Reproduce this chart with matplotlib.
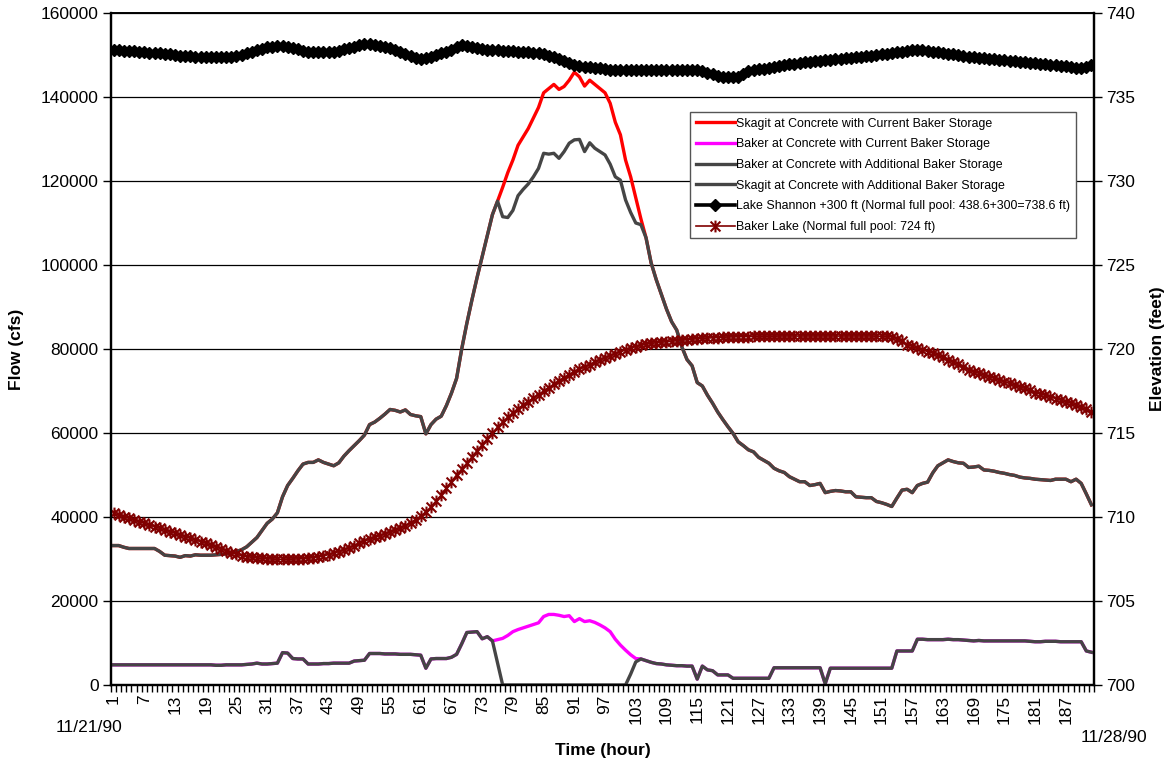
import numpy as np
import matplotlib
matplotlib.use("Agg")
import matplotlib.pyplot as plt
from matplotlib.lines import Line2D
from matplotlib.path import Path
from matplotlib.ticker import FixedLocator, NullFormatter, FuncFormatter

plt.rcParams['font.family'] = ['Liberation Sans', 'DejaVu Sans']

# Hourly series, 11/21/90 - 11/28/90
hours = np.arange(1, 193)

# Skagit at Concrete with additional Baker storage (cfs)
skagit_additional = [
    33200, 33200, 32800, 32500, 32500, 32500, 32500, 32500, 32500, 31800, 30900, 30800,
    30700, 30400, 30800, 30700, 31000, 30900, 30900, 30900, 31000, 31100, 31200, 31500,
    31800, 32200, 32900, 34000, 35100, 36800, 38500, 39500, 41000, 44800, 47500, 49200,
    51000, 52600, 53000, 53000, 53600, 53000, 52600, 52200, 52900, 54500, 55800, 57000,
    58200, 59500, 62000, 62600, 63500, 64500, 65600, 65400, 65000, 65500, 64400, 64100,
    63900, 59800, 62000, 63300, 64000, 66500, 69500, 73000, 80000, 86100, 91700, 97000,
    102000, 107000, 112000, 115200, 111500, 111300, 113000, 116500, 118000, 119300, 121000, 123000,
    126600, 126400, 126600, 125400, 127000, 129000, 129800, 129900, 127000, 129100, 127800, 127000,
    126200, 124000, 121000, 120200, 115500, 112500, 110000, 109600, 106500, 100500, 96500, 93000,
    89500, 86500, 84500, 80500, 77500, 76000, 72000, 71200, 69000, 67100, 65000, 63200,
    61500, 59900, 57900, 57000, 56000, 55500, 54200, 53500, 52800, 51600, 51000, 50600,
    49600, 49000, 48400, 48400, 47500, 47700, 48000, 45800, 46100, 46300, 46200, 46000,
    46000, 44800, 44700, 44600, 44600, 43700, 43400, 43000, 42500, 44500, 46400, 46600,
    45800, 47500, 48000, 48300, 50500, 52200, 52900, 53600, 53200, 52900, 52800, 51800,
    51900, 52100, 51200, 51100, 50900, 50600, 50400, 50100, 49900, 49500, 49300, 49200,
    49000, 48900, 48800, 48700, 49000, 49000, 49000, 48400, 49000, 48000, 45500, 42900,
]

# Baker at Concrete with additional Baker storage (cfs)
baker_additional = [
    4800, 4800, 4800, 4800, 4800, 4800, 4800, 4800, 4800, 4800, 4800, 4800,
    4800, 4800, 4800, 4800, 4800, 4800, 4800, 4800, 4700, 4700, 4800, 4800,
    4800, 4800, 4900, 5000, 5200, 5000, 5000, 5100, 5200, 7700, 7600, 6300,
    6200, 6200, 5000, 5000, 5000, 5100, 5100, 5200, 5200, 5200, 5200, 5700,
    5800, 5900, 7500, 7500, 7500, 7400, 7400, 7400, 7300, 7300, 7300, 7200,
    7100, 4000, 6200, 6300, 6300, 6300, 6600, 7300, 9800, 12500, 12600, 12700,
    11000, 11500, 10500, 5300, 0, 0, 0, 0, 0, 0, 0, 0,
    0, 0, 0, 0, 0, 0, 0, 0, 0, 0, 0, 0,
    0, 0, 0, 0, 0, 2600, 5500, 6200, 5800, 5400, 5100, 5000,
    4800, 4700, 4600, 4600, 4500, 4500, 1400, 4500, 3600, 3400, 2400, 2400,
    2400, 1600, 1600, 1600, 1600, 1600, 1600, 1600, 1600, 4100, 4100, 4100,
    4100, 4100, 4100, 4100, 4100, 4100, 4100, 300, 4000, 4000, 4000, 4000,
    4000, 4000, 4000, 4000, 4000, 4000, 4000, 4000, 4000, 8100, 8100, 8100,
    8100, 10900, 10900, 10800, 10800, 10800, 10800, 10900, 10800, 10800, 10700, 10600,
    10500, 10600, 10500, 10500, 10500, 10500, 10500, 10500, 10500, 10500, 10500, 10400,
    10300, 10300, 10400, 10400, 10400, 10300, 10300, 10300, 10300, 10300, 8100, 7800,
]

# Hours 76-104, where current storage differs from additional storage
skagit_current_peak = [
    115200, 118500, 122000, 125000, 128500, 130500, 132500, 135000, 137500, 141000,
    142000, 143000, 141800, 142500, 144000, 145900, 144800, 142600, 144000, 143000,
    142000, 141000, 138500, 134000, 131000, 125000, 121000, 116000, 111000,
]
baker_current_peak = [
    10800, 11100, 11800, 12700, 13200, 13600, 14000, 14400, 14800, 16300,
    16800, 16800, 16600, 16300, 16500, 15100, 15800, 15100, 15300, 14900,
    14300, 13600, 12700, 10900, 9500, 8300, 7200, 6300, 6200,
]

# Lake Shannon elevation + 300 ft (feet)
lake_shannon = [
    737.80, 737.78, 737.76, 737.74, 737.72, 737.70, 737.67, 737.64, 737.62, 737.59, 737.56, 737.53,
    737.50, 737.47, 737.44, 737.42, 737.41, 737.40, 737.40, 737.40, 737.40, 737.40, 737.40, 737.40,
    737.45, 737.52, 737.60, 737.70, 737.80, 737.88, 737.95, 738.00, 738.04, 738.05, 738.00, 737.92,
    737.84, 737.76, 737.70, 737.68, 737.66, 737.66, 737.66, 737.70, 737.76, 737.84, 737.92, 738.00,
    738.08, 738.14, 738.15, 738.12, 738.06, 738.00, 737.90, 737.80, 737.70, 737.56, 737.42, 737.30,
    737.24, 737.30, 737.40, 737.50, 737.60, 737.70, 737.82, 737.96, 738.10, 738.05, 737.96, 737.90,
    737.84, 737.82, 737.80, 737.78, 737.76, 737.74, 737.72, 737.70, 737.68, 737.65, 737.62, 737.60,
    737.53, 737.46, 737.40, 737.27, 737.14, 737.00, 736.93, 736.87, 736.80, 736.77, 736.73, 736.70,
    736.67, 736.63, 736.60, 736.60, 736.60, 736.60, 736.60, 736.60, 736.60, 736.60, 736.60, 736.60,
    736.60, 736.60, 736.60, 736.60, 736.60, 736.60, 736.60, 736.52, 736.43, 736.34, 736.25, 736.22,
    736.20, 736.20, 736.20, 736.38, 736.55, 736.60, 736.64, 736.67, 736.70, 736.76, 736.82, 736.88,
    736.94, 736.99, 737.04, 737.07, 737.10, 737.13, 737.16, 737.19, 737.22, 737.24, 737.27, 737.30,
    737.33, 737.36, 737.40, 737.43, 737.47, 737.50, 737.54, 737.57, 737.61, 737.65, 737.69, 737.73,
    737.77, 737.80, 737.77, 737.73, 737.69, 737.65, 737.61, 737.57, 737.53, 737.49, 737.45, 737.40,
    737.37, 737.34, 737.31, 737.28, 737.25, 737.22, 737.19, 737.16, 737.13, 737.10, 737.07, 737.04,
    737.00, 736.97, 736.94, 736.91, 736.88, 736.85, 736.82, 736.79, 736.75, 736.70, 736.78, 736.90,
]

# Baker Lake elevation (feet)
baker_lake = [
    710.22, 710.12, 710.02, 709.92, 709.82, 709.72, 709.62, 709.52, 709.42, 709.32, 709.23, 709.13,
    709.03, 708.93, 708.83, 708.73, 708.63, 708.53, 708.43, 708.33, 708.23, 708.12, 708.00, 707.88,
    707.78, 707.70, 707.64, 707.60, 707.56, 707.53, 707.51, 707.49, 707.48, 707.48, 707.48, 707.49,
    707.50, 707.52, 707.54, 707.58, 707.63, 707.69, 707.76, 707.84, 707.94, 708.05, 708.17, 708.30,
    708.43, 708.57, 708.67, 708.78, 708.89, 709.00, 709.10, 709.21, 709.32, 709.48, 709.65, 709.85,
    710.05, 710.30, 710.60, 710.95, 711.30, 711.70, 712.10, 712.50, 712.85, 713.20, 713.58, 713.95,
    714.30, 714.65, 715.00, 715.35, 715.65, 715.95, 716.20, 716.45, 716.65, 716.87, 717.07, 717.28,
    717.50, 717.70, 717.90, 718.10, 718.30, 718.47, 718.63, 718.78, 718.93, 719.07, 719.21, 719.35,
    719.47, 719.60, 719.72, 719.84, 719.95, 720.05, 720.14, 720.22, 720.28, 720.33, 720.37, 720.40,
    720.43, 720.46, 720.49, 720.52, 720.55, 720.58, 720.61, 720.63, 720.65, 720.67, 720.68, 720.70,
    720.71, 720.72, 720.73, 720.74, 720.74, 720.75, 720.75, 720.76, 720.76, 720.76, 720.77, 720.77,
    720.77, 720.77, 720.77, 720.77, 720.77, 720.77, 720.77, 720.77, 720.77, 720.77, 720.77, 720.77,
    720.77, 720.77, 720.77, 720.77, 720.77, 720.76, 720.76, 720.75, 720.72, 720.62, 720.45, 720.25,
    720.15, 720.05, 719.95, 719.85, 719.75, 719.64, 719.50, 719.36, 719.22, 719.08, 718.92, 718.75,
    718.65, 718.55, 718.45, 718.35, 718.25, 718.15, 718.05, 717.95, 717.85, 717.75, 717.65, 717.53,
    717.40, 717.32, 717.24, 717.15, 717.05, 716.95, 716.85, 716.77, 716.65, 716.52, 716.40, 716.27,
]

labels = [
    'Skagit at Concrete with Current Baker Storage',
    'Baker at Concrete with Current Baker Storage',
    'Baker at Concrete with Additional Baker Storage',
    'Skagit at Concrete with Additional Baker Storage',
    'Lake Shannon +300 ft (Normal full pool: 438.6+300=738.6 ft)',
    'Baker Lake (Normal full pool: 724 ft)',
]

# current-storage runs follow the additional-storage runs outside hours 76-104
skagit_current = skagit_additional[:75] + skagit_current_peak + skagit_additional[104:]
baker_current = baker_additional[:75] + baker_current_peak + baker_additional[104:]

RED = '#ff0000'
MAGENTA = '#ff00ff'
GRAY = '#454545'
MAROON = '#800000'

# star marker: an "x" crossed by a vertical stroke
star = Path([(-1, -1), (1, 1), (-1, 1), (1, -1), (0, -1.2), (0, 1.2)],
            [Path.MOVETO, Path.LINETO, Path.MOVETO, Path.LINETO, Path.MOVETO, Path.LINETO])

fig = plt.figure(figsize=(11.68, 7.61), dpi=100)
ax = fig.add_axes([111/1168, 1 - 685/761, (1094 - 111)/1168, (685 - 13)/761])
ax2 = ax.twinx()

ax.plot(hours, skagit_current, color=RED, lw=2.4, zorder=2)
ax.plot(hours, baker_current, color=MAGENTA, lw=2.4, zorder=2)
ax.plot(hours, baker_additional, color=GRAY, lw=2.4, zorder=3)
ax.plot(hours, skagit_additional, color=GRAY, lw=2.4, zorder=3)

ax2.plot(hours, lake_shannon, color='black', lw=2.6, marker='D', ms=6,
         markerfacecolor='black', markeredgecolor='black')
ax2.plot(hours, baker_lake, color=MAROON, lw=1.2, marker=star, ms=8.5,
         markeredgecolor=MAROON, markeredgewidth=1.5)

# axes ranges and ticks
ax.set_xlim(0.5, 192.5)
ax.set_ylim(0, 160000)
ax2.set_ylim(700, 740)

ax.yaxis.set_major_locator(FixedLocator(np.arange(0, 160001, 20000)))
ax.yaxis.set_major_formatter(FuncFormatter(lambda v, p: '%d' % v))
ax2.yaxis.set_major_locator(FixedLocator(np.arange(700, 741, 5)))
ax2.yaxis.set_major_formatter(FuncFormatter(lambda v, p: '%d' % v))

ax.set_xticks(np.arange(1, 193, 6))
ax.set_xticklabels([str(h) for h in range(1, 193, 6)], rotation=90)
ax.xaxis.set_minor_locator(FixedLocator(np.arange(0.5, 193, 1.0)))
ax.xaxis.set_minor_formatter(NullFormatter())
ax.tick_params(axis='x', which='major', length=0, pad=7, labelsize=12.5)
ax.tick_params(axis='x', which='minor', length=5, width=1, direction='out')
ax.tick_params(axis='y', length=6, width=1, labelsize=12.5, pad=3)
ax2.tick_params(axis='y', length=6, width=1, labelsize=12.5, pad=3)

ax.grid(axis='y', color='black', lw=0.9)
ax.set_axisbelow(True)

for a in (ax, ax2):
    for side in ('left', 'right', 'bottom'):
        a.spines[side].set_linewidth(1.6)
    a.spines['top'].set_linewidth(1.2)

ax.set_ylabel('Flow (cfs)', fontsize=12.5, fontweight='bold', labelpad=12)
ax2.set_ylabel('Elevation (feet)', fontsize=12.5, fontweight='bold', labelpad=10)
ax.set_xlabel('Time (hour)', fontsize=12.5, fontweight='bold', labelpad=14)

fig.text(89/1168, 1 - 728/761, '11/21/90', ha='center', va='center', fontsize=12.5)
fig.text(1114/1168, 1 - 737/761, '11/28/90', ha='center', va='center', fontsize=12.5)

handles = [
    Line2D([], [], color=RED, lw=2.4),
    Line2D([], [], color=MAGENTA, lw=2.4),
    Line2D([], [], color=GRAY, lw=2.4),
    Line2D([], [], color=GRAY, lw=2.4),
    Line2D([], [], color='black', lw=2.6, marker='D', ms=6),
    Line2D([], [], color=MAROON, lw=1.2, marker=star, ms=8.5, markeredgewidth=1.5),
]
leg = ax2.legend(handles, labels, loc='upper left',
                 bbox_to_anchor=(690/1168, 1 - 112/761), bbox_transform=fig.transFigure,
                 fontsize=8.9, handlelength=3.2, handletextpad=0.1, labelspacing=0.7,
                 borderpad=0.45, borderaxespad=0, fancybox=False, framealpha=1,
                 edgecolor='#555555')
leg.get_frame().set_linewidth(1.0)

fig.savefig('out.png', dpi=100)
